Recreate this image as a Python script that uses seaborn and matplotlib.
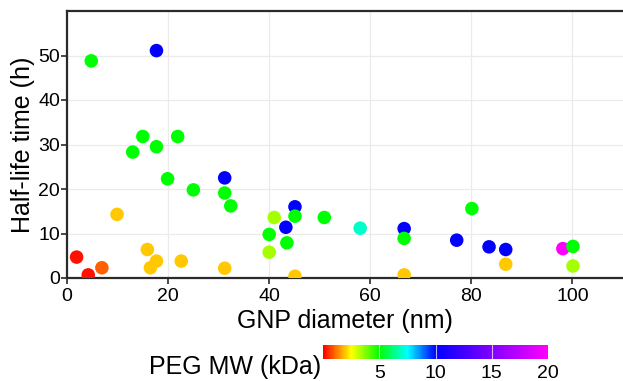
import numpy as np
import pandas as pd
import matplotlib
matplotlib.use("Agg")
import matplotlib.pyplot as plt
import seaborn as sns
from matplotlib.colors import LinearSegmentedColormap, Normalize
from matplotlib.cm import ScalarMappable

# ---- data ----
diameter = [4.8, 17.7, 15.0, 21.9, 17.7, 13.0, 19.9, 25.0, 31.2, 31.2, 32.4,
            9.9, 15.9, 17.7, 16.5, 22.6, 31.2, 1.9, 4.2, 6.9,
            41.0, 40.0, 40.0, 43.5, 43.3, 45.1, 45.1, 45.1, 50.9,
            58.0, 66.7, 66.7, 66.7, 80.1, 77.1, 83.5, 86.8, 86.8, 98.1, 100.1, 100.1]
half_life = [48.8, 51.1, 31.8, 31.8, 29.5, 28.3, 22.3, 19.8, 22.5, 19.1, 16.2,
             14.3, 6.4, 3.8, 2.3, 3.8, 2.2, 4.7, 0.7, 2.3,
             13.6, 9.8, 5.8, 7.9, 11.4, 16.0, 13.9, 0.4, 13.6,
             11.2, 11.1, 8.9, 0.7, 15.6, 8.5, 7.0, 6.4, 3.1, 6.6, 7.1, 2.7]
peg_mw = [5, 10, 5, 5, 5, 5, 5, 5, 10, 5, 5,
          2, 2, 2, 2, 2, 2, 0.2, 0.2, 1,
          3.4, 5, 3.4, 5, 10, 10, 5, 2, 5,
          7, 10, 5, 2, 5, 10, 10, 10, 2, 20, 5, 3.4]
x_ticks = [0, 20, 40, 60, 80, 100]
y_ticks = [0, 10, 20, 30, 40, 50]
cbar_ticks = [5, 10, 15, 20]

df = pd.DataFrame({"diameter": diameter, "half_life": half_life, "peg": peg_mw})

cmap = LinearSegmentedColormap.from_list(
    "peg",
    [(0.0, "#ff0000"), (0.125, "#ffff00"), (0.25, "#00ff00"),
     (0.375, "#00ffff"), (0.5, "#0000ff"), (1.0, "#ff00ff")])
norm = Normalize(0, 20)

sns.set_style("white")
plt.rcParams["font.family"] = ["Liberation Sans", "DejaVu Sans"]
plt.rcParams["text.color"] = "black"
plt.rcParams["axes.labelcolor"] = "black"
plt.rcParams["xtick.labelcolor"] = "black"
plt.rcParams["ytick.labelcolor"] = "black"

fig = plt.figure(figsize=(6.23, 3.81), dpi=100)
ax = fig.add_axes([67 / 623, 1 - 278 / 381, 1 - 67 / 623, (278 - 11) / 381])

sns.scatterplot(data=df, x="diameter", y="half_life", hue="peg",
                palette=cmap, hue_norm=norm, s=95, linewidth=0,
                legend=False, ax=ax, zorder=3)

ax.set_xlim(0, 110)
ax.set_ylim(0, 60)
ax.set_xticks(x_ticks)
ax.set_yticks(y_ticks)
ax.grid(True, color="#ebebeb", linewidth=0.9, zorder=0)
ax.set_axisbelow(True)
for side in ["left", "bottom", "top"]:
    ax.spines[side].set_color("#2a2a2a")
    ax.spines[side].set_linewidth(1.6)
ax.spines["right"].set_visible(False)
ax.tick_params(axis="both", which="both", direction="out", length=4, width=1.2,
               color="#2a2a2a", labelcolor="black", labelsize=14,
               bottom=True, left=True)
ax.tick_params(axis="x", pad=3)
ax.tick_params(axis="y", pad=1)
ax.set_xlabel("GNP diameter (nm)", fontsize=18, labelpad=3)
ax.set_ylabel("Half-life time (h)", fontsize=18, labelpad=2)

# colorbar
cax = fig.add_axes([323 / 623, 1 - 359 / 381, 225 / 623, 14 / 381])
sm = ScalarMappable(norm=norm, cmap=cmap)
cb = fig.colorbar(sm, cax=cax, orientation="horizontal", ticks=cbar_ticks)
cb.outline.set_visible(False)
cax.tick_params(length=0, labelsize=14, pad=4, labelcolor="black")
for t in cbar_ticks[:-1]:
    cax.axvline(t, color="white", linewidth=0.8, alpha=0.7)
fig.text(321 / 623, 1 - 367 / 381, "PEG MW (kDa)", ha="right", va="center",
         fontsize=18)

fig.savefig("out.png", dpi=100)
